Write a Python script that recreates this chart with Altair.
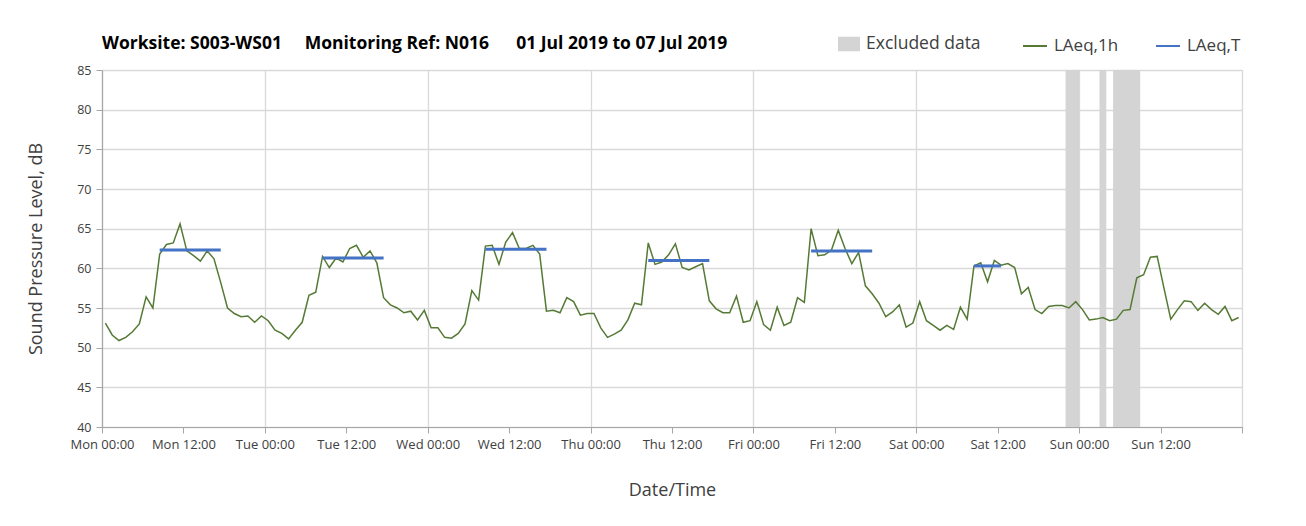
import altair as alt
import pandas as pd

# ---------------- data ----------------
day_names = ["Mon", "Tue", "Wed", "Thu", "Fri", "Sat", "Sun"]

# hourly LAeq,1h values, Mon 00:00 ... Sun 23:00
laeq_1h = [
    # Mon
    53.1, 51.6, 50.9, 51.3, 52.0, 53.0, 56.4, 55.0, 61.8, 63.0, 63.2, 65.6,
    62.2, 61.6, 60.9, 62.2, 61.2, 58.2, 55.0, 54.3, 53.9, 54.0, 53.2, 54.0,
    # Tue
    53.4, 52.2, 51.8, 51.1, 52.2, 53.2, 56.6, 57.0, 61.5, 60.1, 61.3, 60.8,
    62.5, 62.9, 61.4, 62.2, 60.7, 56.3, 55.4, 55.0, 54.4, 54.6, 53.5, 54.7,
    # Wed
    52.5, 52.5, 51.3, 51.2, 51.8, 53.0, 57.2, 56.0, 62.8, 62.9, 60.5, 63.3,
    64.5, 62.5, 62.5, 62.9, 61.8, 54.6, 54.7, 54.4, 56.3, 55.8, 54.1, 54.3,
    # Thu
    54.3, 52.5, 51.3, 51.7, 52.2, 53.5, 55.6, 55.4, 63.2, 60.5, 60.8, 61.7,
    63.1, 60.1, 59.8, 60.2, 60.6, 55.9, 54.9, 54.4, 54.4, 56.5, 53.2, 53.4,
    # Fri
    55.8, 52.9, 52.2, 55.1, 52.8, 53.2, 56.3, 55.7, 65.0, 61.6, 61.7, 62.3,
    64.8, 62.5, 60.6, 62.0, 57.8, 56.8, 55.6, 53.9, 54.5, 55.4, 52.6, 53.1,
    # Sat
    55.8, 53.4, 52.8, 52.2, 52.8, 52.3, 55.1, 53.6, 60.3, 60.7, 58.3, 61.0,
    60.4, 60.6, 60.1, 56.8, 57.6, 54.8, 54.3, 55.2, 55.3, 55.3, 55.0, 55.8,
    # Sun
    54.8, 53.5, 53.6, 53.8, 53.4, 53.6, 54.7, 54.8, 58.8, 59.2, 61.4, 61.5,
    57.5, 53.6, 54.8, 55.9, 55.8, 54.7, 55.6, 54.8, 54.2, 55.2, 53.4, 53.8,
]

# LAeq,T over the working period of each day (first and last hour bins, inclusive)
period_day = ["Mon", "Tue", "Wed", "Thu", "Fri", "Sat"]
period_first_hour = [8, 32, 56, 80, 104, 128]
period_last_hour = [17, 41, 65, 89, 113, 132]
laeq_T = [62.3, 61.3, 62.4, 61.0, 62.2, 60.3]

# excluded data periods (hours from Mon 00:00)
excluded_start = [142, 147, 149]
excluded_end = [144, 148, 153]

band_name = ["Excluded data"]
band_color = ["#d4d4d4"]
line_names = ["LAeq,1h", "LAeq,T"]
line_colors = ["#557a35", "#4472c4"]

title_text = ("Worksite: S003-WS01\u00a0\u00a0\u00a0\u00a0\u00a0Monitoring Ref: N016"
              "\u00a0\u00a0\u00a0\u00a0\u00a0\u00a001 Jul 2019 to 07 Jul 2019")

# ---------------- tables ----------------
df_1h = pd.DataFrame({
    "hour": [i + 0.5 for i in range(len(laeq_1h))],
    "level": laeq_1h,
    "series": "LAeq,1h",
})

rows = []
for d, a, b, v in zip(period_day, period_first_hour, period_last_hour, laeq_T):
    rows.append({"day": d, "hour": a + 0.5, "level": v, "series": "LAeq,T"})
    rows.append({"day": d, "hour": b + 0.5, "level": v, "series": "LAeq,T"})
df_T = pd.DataFrame(rows)

df_ex = pd.DataFrame({
    "start": excluded_start,
    "end": excluded_end,
    "series": "Excluded data",
})

FONT = "Open Sans"
TEXT = "#404040"

days_js = "[" + ",".join("'%s'" % d for d in day_names) + "]"
label_expr = (
    "datum.value >= 168 ? '' : " + days_js +
    "[floor(datum.value / 24)] + (datum.value % 24 == 0 ? ' 00:00' : ' 12:00')"
)

x_axis = alt.Axis(
    values=list(range(0, 169, 12)),
    labelExpr=label_expr,
    title="Date/Time",
    titleFont=FONT, titleFontSize=18, titleFontWeight="normal", titleColor=TEXT,
    titlePadding=30,
    labelFont=FONT, labelFontSize=13, labelColor=TEXT, labelPadding=5,
    labelOverlap=False, labelFlush=False,
    tickSize=6, tickColor="#a6a6a6", tickWidth=1,
    domainColor="#a6a6a6", domainWidth=1.2,
    grid=True, gridColor="#d9d9d9", gridWidth=1.3,
    gridOpacity={"condition": {"test": "datum.value % 24 === 0", "value": 1}, "value": 0},
)

y_axis = alt.Axis(
    values=list(range(40, 86, 5)),
    title="Sound Pressure Level, dB",
    titleFont=FONT, titleFontSize=18, titleFontWeight="normal", titleColor=TEXT,
    titlePadding=31,
    labelFont=FONT, labelFontSize=12.5, labelColor=TEXT, labelPadding=5,
    tickSize=6, tickColor="#a6a6a6", tickWidth=1,
    domainColor="#a6a6a6", domainWidth=1.2,
    grid=True, gridColor="#d9d9d9", gridWidth=1.3,
)

x_scale = alt.Scale(domain=[0, 168], nice=False, zero=False)
y_scale = alt.Scale(domain=[40, 85], nice=False, zero=False)

band_legend = alt.Legend(
    title=None, orient="none", direction="horizontal",
    legendX=736, legendY=-37,
    labelFont=FONT, labelFontSize=17.5, labelColor=TEXT, labelOffset=6,
    symbolSize=484, symbolType="M-1,-0.66H1V0.66H-1Z", symbolStrokeWidth=0,
    symbolOpacity=1, padding=0,
)

line_legend = alt.Legend(
    title=None, orient="none", direction="horizontal",
    legendX=920, legendY=-37,
    labelFont=FONT, labelFontSize=17, labelColor=TEXT, labelOffset=6,
    symbolSize=576, symbolType="stroke", symbolStrokeWidth=2,
    columnPadding=33, padding=0,
)

fill = alt.Fill(
    "series:N",
    scale=alt.Scale(domain=band_name, range=band_color),
    legend=band_legend,
)
stroke = alt.Stroke(
    "series:N",
    scale=alt.Scale(domain=line_names, range=line_colors),
    legend=line_legend,
)

bands = alt.Chart(df_ex).mark_rect(opacity=1).encode(
    x=alt.X("start:Q", scale=x_scale, axis=x_axis),
    x2="end:Q",
    y=alt.Y(datum=40, scale=y_scale, axis=y_axis),
    y2=alt.Y2(datum=85),
    fill=fill,
)

line_1h = alt.Chart(df_1h).mark_line(strokeWidth=1.5).encode(
    x=alt.X("hour:Q", scale=x_scale, axis=x_axis),
    y=alt.Y("level:Q", scale=y_scale, axis=y_axis),
    stroke=stroke,
)

line_T = alt.Chart(df_T).mark_line(strokeWidth=3).encode(
    x=alt.X("hour:Q", scale=x_scale, axis=x_axis),
    y=alt.Y("level:Q", scale=y_scale, axis=y_axis),
    stroke=stroke,
    detail="day:N",
)

chart = alt.layer(bands, line_1h, line_T).properties(
    width=1140,
    height=357,
    title=alt.TitleParams(
        text=title_text, anchor="start", frame="group",
        font=FONT, fontSize=17.5, fontWeight="bold", color="#000000", offset=-19,
    ),
    autosize=alt.AutoSizeParams(type="none"),
    padding={"left": 94, "top": 62, "right": 56, "bottom": 91},
).configure_view(stroke=None).configure(background="white")

chart.save("out.html", embed_options={"renderer": "svg", "actions": False})
